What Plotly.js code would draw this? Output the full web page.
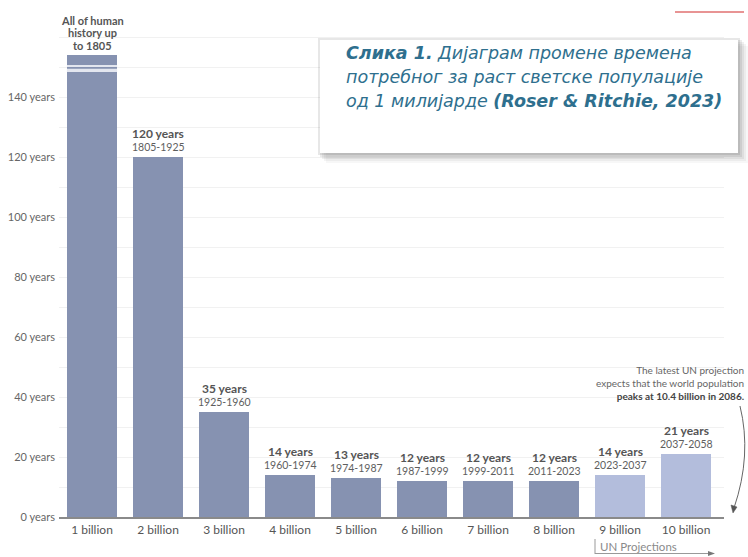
<!DOCTYPE html>
<html>
<head>
<meta charset="utf-8">
<script src="https://cdn.plot.ly/plotly-3.0.1.min.js"></script>
<style>
  html, body { margin: 0; padding: 0; background: #ffffff; }
  #chart { width: 748px; height: 557px; }
</style>
</head>
<body>
<div id="chart"></div>
<script>
// ---- data ----
const categories = ['1 billion', '2 billion', '3 billion', '4 billion', '5 billion',
                    '6 billion', '7 billion', '8 billion', '9 billion', '10 billion'];
// bar heights as drawn (first bar is a truncated / broken bar)
const yearsShown = [154, 120, 35, 14, 13, 12, 12, 12, 14, 21];
const yearLabels = ['', '120 years', '35 years', '14 years', '13 years',
                    '12 years', '12 years', '12 years', '14 years', '21 years'];
const periodLabels = ['', '1805-1925', '1925-1960', '1960-1974', '1974-1987',
                      '1987-1999', '1999-2011', '2011-2023', '2023-2037', '2037-2058'];
const firstBarLines = ['All of human', 'history up', 'to 1805'];
const isProjection = [false, false, false, false, false, false, false, false, true, true];
const yTickVals = [0, 10, 20, 30, 40, 50, 60, 70, 80, 90, 100, 110, 120, 130, 140, 150, 160];
const yTickText = ['0 years', '', '20 years', '', '40 years', '', '60 years', '', '80 years', '',
                   '100 years', '', '120 years', '', '140 years', '', ''];

// ---- geometry helpers (decoration only) ----
const W = 748, H = 557;
const M = { l: 59, r: 24, t: 10, b: 40 };
const PW = W - M.l - M.r, PH = H - M.t - M.b;
const px = x => (x - M.l) / PW;
const py = y => (H - M.b - y) / PH;

const histColor = '#8692b1';
const projColor = '#b3bddc';

const trace = {
  type: 'bar',
  x: categories,
  y: yearsShown,
  marker: { color: isProjection.map(p => p ? projColor : histColor), line: { width: 0 } },
  hoverinfo: 'skip'
};

const annotations = [];
categories.forEach((c, i) => {
  if (yearLabels[i]) {
    annotations.push({
      x: c, y: yearsShown[i], xref: 'x', yref: 'y', yanchor: 'middle', yshift: 24,
      text: '<b>' + yearLabels[i] + '</b>', showarrow: false,
      font: { family: 'Lato', size: 12, color: '#555555' }
    });
    annotations.push({
      x: c, y: yearsShown[i], xref: 'x', yref: 'y', yanchor: 'middle', yshift: 10,
      text: periodLabels[i], showarrow: false,
      font: { family: 'Lato', size: 10.5, color: '#5e5e5e' }
    });
  }
});
firstBarLines.forEach((t, k) => {
  annotations.push({
    x: categories[0], y: yearsShown[0], xref: 'x', yref: 'y', yanchor: 'middle',
    yshift: 10 + 12.5 * (firstBarLines.length - 1 - k),
    text: '<b>' + t + '</b>', showarrow: false,
    font: { family: 'Lato', size: 11, color: '#555555' }
  });
});

// caption text
const capFont = { family: 'DejaVu Sans', size: 17.5, color: '#2e6f8e' };
const capLines = [
  '<i><b>Слика 1.</b> Дијаграм промене времена</i>',
  '<i>потребног за раст светске популације</i>',
  '<i>од 1 милијарде <b>(Roser &amp; Ritchie, 2023)</b></i>'
];
const capY = [53, 77, 101];
capLines.forEach((t, k) => {
  annotations.push({
    xref: 'paper', yref: 'paper', x: px(344), y: py(capY[k]), xanchor: 'left', yanchor: 'middle',
    text: t, showarrow: false, align: 'left', font: capFont
  });
});

// UN note
annotations.push({
  xref: 'paper', yref: 'paper', x: px(746), y: py(383), xanchor: 'right', yanchor: 'middle',
  align: 'right', showarrow: false,
  text: 'The latest UN projection<br>expects that the world population<br><b style="color:#444">peaks at 10.4 billion in 2086.</b>',
  font: { family: 'Lato', size: 10, color: '#666666' }
});
// UN Projections label
annotations.push({
  xref: 'paper', yref: 'paper', x: px(598), y: py(546.5), xanchor: 'left', yanchor: 'middle',
  showarrow: false, text: 'UN Projections',
  font: { family: 'Lato', size: 11.5, color: '#8a8a8a' }
});

const shapes = [];
// broken-bar stripes on first bar
shapes.push({ type: 'rect', xref: 'x', yref: 'y', x0: -0.38, x1: 0.38, y0: 150.0, y1: 150.7,
  fillcolor: '#e3e6ef', line: { width: 0 } });
shapes.push({ type: 'rect', xref: 'x', yref: 'y', x0: -0.38, x1: 0.38, y0: 148.3, y1: 149.4,
  fillcolor: '#e3e6ef', line: { width: 0 } });

// caption box shadow + box
[[10, 0.04], [8, 0.06], [6, 0.08], [4, 0.10], [2, 0.12]].forEach(([o, a]) => {
  shapes.push({ type: 'rect', xref: 'paper', yref: 'paper',
    x0: px(320 + o - 4), x1: px(738 + o), y0: py(153 + o), y1: py(40 + o - 4),
    fillcolor: 'rgba(60,60,60,' + a + ')', line: { width: 0 }, layer: 'above' });
});
shapes.push({ type: 'rect', xref: 'paper', yref: 'paper',
  x0: px(320), x1: px(738), y0: py(153), y1: py(40),
  fillcolor: '#ffffff', line: { width: 0 }, layer: 'above' });

// red line top-right
shapes.push({ type: 'line', xref: 'paper', yref: 'paper', x0: px(675), x1: px(744), y0: py(12), y1: py(12),
  line: { color: '#e07070', width: 1.5 } });

// curved arrow
const P = (x, y) => px(x).toFixed(5) + ',' + py(y).toFixed(5);
shapes.push({ type: 'path', xref: 'paper', yref: 'paper',
  path: 'M' + P(740, 406) + ' Q' + P(752, 455) + ' ' + P(734, 508),
  line: { color: '#666666', width: 1 } });
shapes.push({ type: 'path', xref: 'paper', yref: 'paper',
  path: 'M' + P(731, 505) + ' L' + P(733, 513) + ' L' + P(737, 507) + ' Z',
  fillcolor: '#555555', line: { color: '#555555', width: 0.5 } });

// UN projections bracket
shapes.push({ type: 'line', xref: 'paper', yref: 'paper', x0: px(595), x1: px(595), y0: py(539), y1: py(554),
  line: { color: '#999999', width: 1 } });
shapes.push({ type: 'line', xref: 'paper', yref: 'paper', x0: px(595), x1: px(712), y0: py(553.5), y1: py(553.5),
  line: { color: '#999999', width: 1 } });
shapes.push({ type: 'path', xref: 'paper', yref: 'paper',
  path: 'M' + P(708, 551) + ' L' + P(715, 553.5) + ' L' + P(708, 556) + ' Z',
  fillcolor: '#777777', line: { width: 0 } });

const layout = {
  width: W, height: H,
  margin: M,
  paper_bgcolor: '#ffffff', plot_bgcolor: '#ffffff',
  showlegend: false,
  bargap: 16 / 66,
  font: { family: 'Lato', color: '#555555' },
  xaxis: {
    type: 'category',
    range: [-0.5, 9.5 + 5 / 66],
    showline: true, linecolor: '#8a8a8a', linewidth: 2,
    ticks: '', showgrid: false, zeroline: false,
    tickfont: { family: 'Lato', size: 12, color: '#555555' },
    ticklabelstandoff: 1
  },
  yaxis: {
    range: [0, 169],
    tickmode: 'array', tickvals: yTickVals, ticktext: yTickText,
    showgrid: true, gridcolor: '#f1f1f1', gridwidth: 1,
    zeroline: false, showline: false, ticks: '',
    tickfont: { family: 'Lato', size: 11, color: '#666666' },
    ticklabelshift: -4.5, ticklabelstandoff: 3
  },
  annotations: annotations,
  shapes: shapes
};

Plotly.newPlot('chart', [trace], layout, { displayModeBar: false, staticPlot: true });
</script>
</body>
</html>
